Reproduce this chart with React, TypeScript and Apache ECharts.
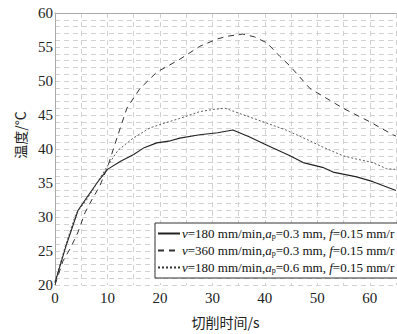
import React, { useEffect, useRef } from "react";
import * as echarts from "echarts";

const s1T = [0, 2, 4.4, 6, 8, 10, 12.5, 15, 17, 19.4, 22, 23.8, 27.6, 31, 33.9, 37, 40, 44.8, 47.3, 51, 53, 57.5, 60.6, 65];
const s1V = [20.3, 25.5, 31.0, 32.8, 35.0, 37.0, 38.2, 39.2, 40.2, 40.9, 41.2, 41.6, 42.1, 42.4, 42.8, 41.8, 40.7, 39.0, 38.0, 37.3, 36.6, 35.9, 35.2, 33.9];

const s2T = [0, 1.5, 3, 4.4, 5.7, 7, 8.5, 10, 11.8, 13.7, 16.2, 19.4, 23.8, 27.6, 31, 33, 35.8, 38, 40.4, 42.9, 44.8, 48.6, 51, 54.9, 60, 64.4, 65];
const s2V = [20.0, 23.5, 25.5, 27.8, 30.6, 32.5, 34.5, 37.3, 41.6, 46.0, 48.9, 51.3, 53.2, 55.1, 56.2, 56.6, 56.9, 56.5, 55.6, 53.6, 52.2, 48.9, 47.8, 46.0, 44.0, 42.1, 41.9];

const s3T = [0, 2, 4, 6, 8, 10, 12, 14.9, 18.1, 20, 23.8, 27.6, 30, 32.4, 36, 40.4, 44, 48.6, 51, 54.9, 57, 60.6, 63.2, 65];
const s3V = [20.5, 25.8, 30.5, 32.5, 35.0, 37.5, 39.8, 41.6, 43.1, 43.6, 44.5, 45.5, 45.8, 46.0, 45.0, 43.8, 42.8, 41.2, 40.3, 39.0, 38.6, 38.0, 37.1, 37.0];

const seriesNames = [
  "v=180 mm/min,ap=0.3 mm, f=0.15 mm/r",
  "v=360 mm/min,ap=0.3 mm, f=0.15 mm/r",
  "v=180 mm/min,ap=0.6 mm, f=0.15 mm/r",
];
const legendRich = [
  "{i|v}=180 mm/min,{i|a}{s|p}=0.3 mm, {i|f}=0.15 mm/r",
  "{i|v}=360 mm/min,{i|a}{s|p}=0.3 mm, {i|f}=0.15 mm/r",
  "{i|v}=180 mm/min,{i|a}{s|p}=0.6 mm, {i|f}=0.15 mm/r",
];

const xName = "切削时间/s";
const yName = "温度/°C";

const pairs = (t: number[], v: number[]) => t.map((x, i) => [x, v[i]]);

const SERIF = "Liberation Serif";

export default function App() {
  const ref = useRef<HTMLDivElement>(null);
  useEffect(() => {
    if (!ref.current) return;
    const chart = echarts.init(ref.current, undefined, { renderer: "svg" });
    const gridColor = "#d2d2d2";
    const dash = [5, 4];
    chart.setOption({
      animation: false,
      backgroundColor: "#ffffff",
      textStyle: { fontFamily: SERIF },
      grid: { left: 55, right: 1, top: 13, bottom: 44 },
      legend: {
        show: true,
        orient: "vertical",
        left: 155,
        top: 223,
        itemWidth: 22,
        itemHeight: 11,
        itemGap: 4,
        padding: [4, 40, 4, 2],
        borderColor: "#333",
        borderWidth: 1,
        backgroundColor: "#fff",
        itemStyle: { color: "transparent", borderWidth: 0, opacity: 0 },
        data: seriesNames,
        formatter: (name: string) => legendRich[seriesNames.indexOf(name)],
        textStyle: {
          fontFamily: SERIF,
          fontSize: 13,
          color: "#111",
          padding: [0, 0, 0, -3],
          rich: {
            i: { fontFamily: SERIF, fontSize: 13, fontStyle: "italic", color: "#111" },
            s: { fontFamily: SERIF, fontSize: 8, color: "#111", verticalAlign: "bottom", padding: [5, 0, 0, 0] },
          },
        },
      },
      xAxis: [
        {
          type: "value",
          min: 0,
          max: 65,
          interval: 10,
          axisLine: { show: false },
          axisTick: { show: false },
          axisLabel: { fontFamily: SERIF, fontSize: 15, color: "#222", margin: 5, showMaxLabel: false },
          splitLine: { show: true, lineStyle: { color: gridColor, type: dash, width: 1 } },
          minorTick: { show: false, splitNumber: 2 },
          minorSplitLine: { show: true, lineStyle: { color: gridColor, type: dash, width: 1 } },
          name: xName,
          nameLocation: "middle",
          nameGap: 30,
          nameTextStyle: { fontFamily: "Noto Sans CJK SC", fontSize: 14, color: "#222" },
        },
        {
          type: "value",
          position: "top",
          min: 0,
          max: 65,
          axisLine: { show: true, lineStyle: { color: "#aaa", width: 1 } },
          axisTick: { show: false },
          axisLabel: { show: false },
          splitLine: { show: false },
        },
      ],
      yAxis: {
        type: "value",
        min: 20,
        max: 60,
        interval: 5,
        axisLine: { show: true, lineStyle: { color: "#aaa", width: 1 } },
        axisTick: { show: false },
        axisLabel: { fontFamily: SERIF, fontSize: 15, color: "#222", margin: 2 },
        splitLine: { show: true, lineStyle: { color: gridColor, type: dash, width: 1 } },
        minorTick: { show: false, splitNumber: 5 },
        minorSplitLine: { show: true, lineStyle: { color: gridColor, type: dash, width: 1 } },
      },
      graphic: [
        {
          type: "text",
          x: 20,
          y: 135,
          rotation: Math.PI / 2,
          style: {
            text: yName,
            fontFamily: "Noto Sans CJK SC",
            fontSize: 14,
            fill: "#222",
            align: "center",
            verticalAlign: "middle",
          },
        },
      ],
      series: [
        {
          name: seriesNames[0],
          type: "line",
          data: pairs(s1T, s1V),
          showSymbol: false,
          symbol: "none",
          lineStyle: { color: "#222", width: 1.1, type: "solid" },
          itemStyle: { color: "#222" },
          z: 3,
        },
        {
          name: seriesNames[1],
          type: "line",
          data: pairs(s2T, s2V),
          showSymbol: false,
          symbol: "none",
          lineStyle: { color: "#333", width: 1, type: [6, 5] },
          itemStyle: { color: "#333" },
          z: 3,
        },
        {
          name: seriesNames[2],
          type: "line",
          data: pairs(s3T, s3V),
          showSymbol: false,
          symbol: "none",
          lineStyle: { color: "#333", width: 0.8, type: [2, 2] },
          itemStyle: { color: "#333" },
          z: 3,
        },
      ],
    });
    return () => chart.dispose();
  }, []);
  return (
    <div
      ref={ref}
      style={{ position: "fixed", left: 0, top: 0, width: 397, height: 334 }}
    />
  );
}
